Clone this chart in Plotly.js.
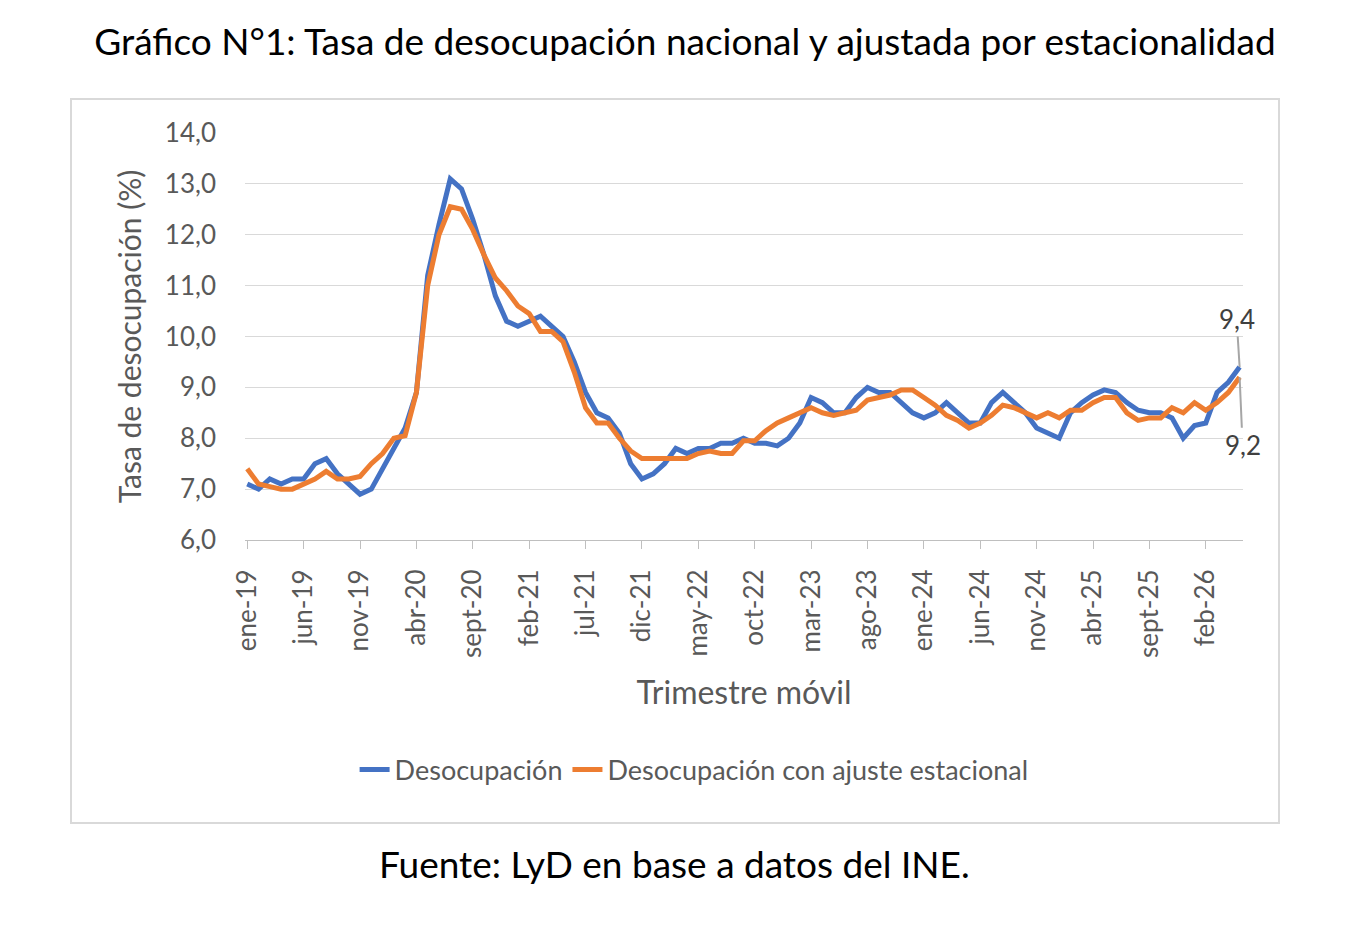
<!DOCTYPE html>
<html><head><meta charset="utf-8">
<script src="https://cdn.plot.ly/plotly-3.0.1.min.js"></script>
<style>
body{margin:0;background:#fff;font-family:Lato,sans-serif}
#frame{position:absolute;left:70px;top:98px;width:1210px;height:726px;border:2px solid #d9d9d9;box-sizing:border-box}
#plot{position:absolute;left:0;top:0;width:1370px;height:936px}
</style></head>
<body>
<div id="frame"></div>
<div id="plot"></div>
<script>
// Monthly moving-quarter labels, ene-19 .. may-26
const monthNames = ['ene','feb','mar','abr','may','jun','jul','ago','sept','oct','nov','dic'];
const months = [];
for (let y = 19; y <= 26; y++) for (let m = 0; m < 12; m++) {
  if (y === 26 && m > 4) break;
  months.push(monthNames[m] + '-' + y);
}
const tickLabels = ['ene-19','jun-19','nov-19','abr-20','sept-20','feb-21','jul-21','dic-21','may-22','oct-22','mar-23','ago-23','ene-24','jun-24','nov-24','abr-25','sept-25','feb-26'];

const desocupacion = [7.1,7.0,7.2,7.1,7.2,7.2,7.5,7.6,7.3,7.1,6.9,7.0,
  7.4,7.8,8.2,8.9,11.2,12.2,13.1,12.9,12.3,11.6,10.8,10.3,
  10.2,10.3,10.4,10.2,10.0,9.5,8.9,8.5,8.4,8.1,7.5,7.2,
  7.3,7.5,7.8,7.7,7.8,7.8,7.9,7.9,8.0,7.9,7.9,7.85,
  8.0,8.3,8.8,8.7,8.5,8.5,8.8,9.0,8.9,8.9,8.7,8.5,
  8.4,8.5,8.7,8.5,8.3,8.3,8.7,8.9,8.7,8.5,8.2,8.1,
  8.0,8.5,8.7,8.85,8.95,8.9,8.7,8.55,8.5,8.5,8.4,8.0,
  8.25,8.3,8.9,9.1,9.4];
const ajustada = [7.4,7.1,7.05,7.0,7.0,7.1,7.2,7.35,7.2,7.2,7.25,7.5,
  7.7,8.0,8.05,8.9,11.0,12.0,12.55,12.5,12.1,11.6,11.15,10.9,
  10.6,10.45,10.1,10.1,9.9,9.3,8.6,8.3,8.3,8.0,7.75,7.6,
  7.6,7.6,7.6,7.6,7.7,7.75,7.7,7.7,7.95,7.95,8.15,8.3,
  8.4,8.5,8.6,8.5,8.45,8.5,8.55,8.75,8.8,8.85,8.95,8.95,
  8.8,8.65,8.45,8.35,8.2,8.3,8.45,8.65,8.6,8.5,8.4,8.5,
  8.4,8.55,8.55,8.7,8.8,8.8,8.5,8.35,8.4,8.4,8.6,8.5,
  8.7,8.55,8.7,8.9,9.2];
const lastIdx = months.length - 1;

const font = 'Lato, "Open Sans", sans-serif';
const traces = [
  {type:'scatter', mode:'lines', x:months, y:desocupacion, name:'Desocupación',
   line:{color:'#4472c4', width:5}},
  {type:'scatter', mode:'lines', x:months, y:ajustada, name:'Desocupación con ajuste estacional',
   line:{color:'#ed7d31', width:5}}
];
const layout = {
  width:1370, height:936,
  paper_bgcolor:'rgba(0,0,0,0)', plot_bgcolor:'rgba(0,0,0,0)',
  margin:{l:245, r:127, t:133, b:396},
  font:{family:font, color:'#595959', size:26},
  separators:', ',
  title:{text:'Gráfico N°1: Tasa de desocupación nacional y ajustada por estacionalidad',
    font:{size:37, color:'#000'}, x:0.5, xref:'container', xanchor:'center', y:0.955, yanchor:'middle'},
  xaxis:{type:'category', range:[-0.2, lastIdx + 0.3], tickvals:tickLabels, ticktext:tickLabels,
    tickangle:-90, ticks:'outside', ticklen:8, tickcolor:'#bfbfbf', showline:true, linecolor:'#bfbfbf',
    showgrid:false, tickfont:{size:26, color:'#595959'}, ticklabelstandoff:10,
    title:{text:'Trimestre móvil', font:{size:32, color:'#595959'}, standoff:24}},
  yaxis:{range:[6, 14], dtick:1, tickformat:'.1f',
    gridcolor:'#d9d9d9', zeroline:false, showline:false, tickfont:{size:26, color:'#595959'},
    ticklabelstandoff:28,
    title:{text:'Tasa de desocupación (%)', font:{size:30, color:'#595959'}, standoff:14}},
  showlegend:true,
  legend:{orientation:'h', x:0.45, xanchor:'center', y:-0.565, yanchor:'middle',
    font:{size:27, color:'#595959'}},
  annotations:[
    {x:months[lastIdx], y:desocupacion[lastIdx], text:'9,4', showarrow:true, arrowhead:0,
     arrowcolor:'#a6a6a6', ax:-3, ay:-48, font:{size:26, color:'#404040'}},
    {x:months[lastIdx], y:ajustada[lastIdx], text:'9,2', showarrow:true, arrowhead:0,
     arrowcolor:'#a6a6a6', ax:3, ay:68, font:{size:26, color:'#404040'}},
    {xref:'paper', yref:'paper', x:0.43, y:-0.855, text:'Fuente: LyD en base a datos del INE.',
     showarrow:false, font:{size:37, color:'#000'}}
  ]
};
Plotly.newPlot('plot', traces, layout, {displayModeBar:false});
</script>
</body></html>
